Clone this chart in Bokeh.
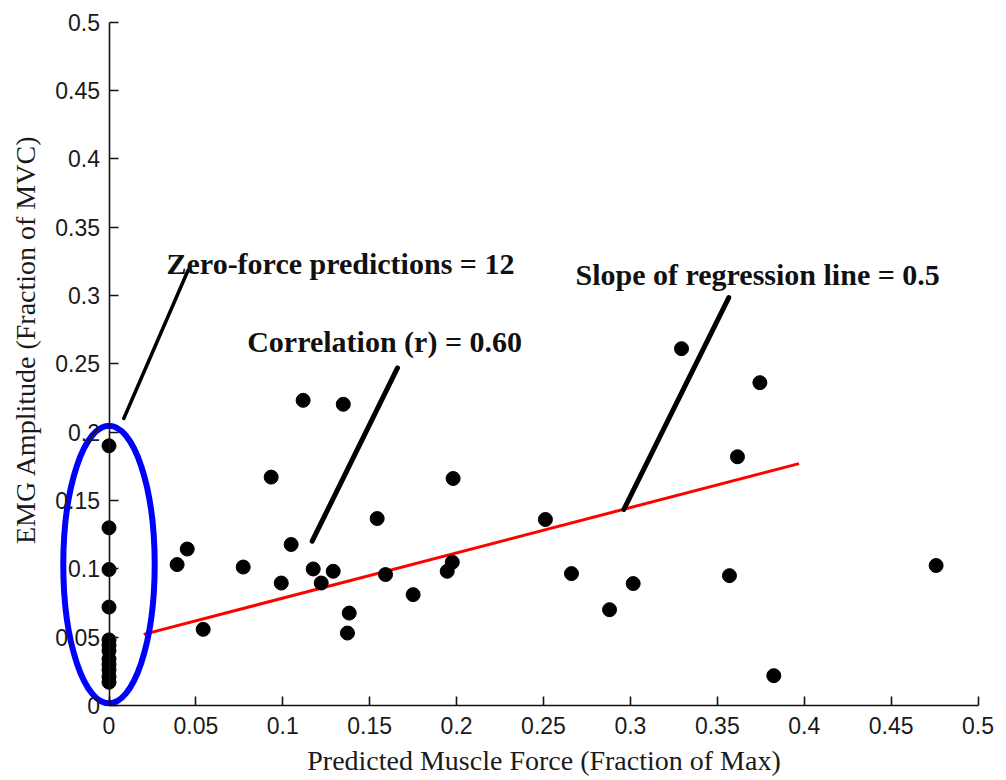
import math
from bokeh.plotting import figure
from bokeh.models import LinearAxis, FixedTicker, Range1d, Label, ColumnDataSource, Grid
from bokeh.core.properties import value
from bokeh.embed import file_html
from bokeh.resources import INLINE

# ---- data ----
zero_x = [0.0] * 12
zero_y = [0.190, 0.130, 0.0995, 0.072, 0.048, 0.044, 0.040, 0.034, 0.030, 0.026, 0.021, 0.017]

force_x = [0.1117, 0.1348, 0.0933, 0.1980, 0.1543, 0.0450, 0.1048, 0.0392, 0.0772, 0.1175,
           0.1290, 0.0991, 0.1221, 0.1591, 0.1975, 0.1946, 0.1750, 0.1382, 0.1372, 0.0542,
           0.3294, 0.3745, 0.3616, 0.2511, 0.2661, 0.3016, 0.2880, 0.3570, 0.3825, 0.4759]
emg_y = [0.2233, 0.2204, 0.1671, 0.1661, 0.1368, 0.1145, 0.1178, 0.1031, 0.1013, 0.0999,
         0.0982, 0.0896, 0.0896, 0.0958, 0.1048, 0.0982, 0.0811, 0.0676, 0.0530, 0.0557,
         0.2611, 0.2362, 0.1820, 0.1361, 0.0965, 0.0892, 0.0701, 0.0950, 0.0218, 0.1024]

reg_x = [0.020, 0.397]
reg_y = [0.052, 0.177]

ticks = [0, 0.05, 0.1, 0.15, 0.2, 0.25, 0.3, 0.35, 0.4, 0.45, 0.5]
tick_labels = ["0", "0.05", "0.1", "0.15", "0.2", "0.25", "0.3", "0.35", "0.4", "0.45", "0.5"]

# annotation callouts (data coords)
note_texts = ["Zero-force predictions = 12", "Correlation (r) = 0.60", "Slope of regression line = 0.5"]
note_x = [0.0331, 0.0795, 0.2684]
note_y = [0.3232, 0.2667, 0.3156]
callout_xs = [[0.0085, 0.0455], [0.1169, 0.166], [0.2962, 0.3566]]
callout_ys = [[0.210, 0.3185], [0.1202, 0.247], [0.1434, 0.2985]]
callout_w = [3.5, 5, 5]

ellipse_x = [0.0]
ellipse_y = [0.1031]
ellipse_w = [0.0526]
ellipse_h = [0.2032]

# ---- figure ----
W, H = 1006, 780
xs, xe = -108.5 / 1738, 0.5 + 28.5 / 1738
ys, ye = -(H - 705) / 1366, 0.5 + 21.7 / 1366

p = figure(width=W, height=H, x_range=Range1d(xs, xe), y_range=Range1d(ys, ye),
           x_axis_location=None, y_axis_location=None,
           toolbar_location=None, output_backend="svg", min_border=0)
p.outline_line_color = None
p.background_fill_color = "white"
p.border_fill_color = "white"
for r in list(p.center):
    if isinstance(r, Grid):
        r.visible = False

overrides = {t: l for t, l in zip(ticks, tick_labels)}

xa = LinearAxis(fixed_location=0, bounds=(0, 0.5), ticker=FixedTicker(ticks=ticks))
xa.major_label_overrides = overrides
ya = LinearAxis(fixed_location=0, bounds=(0, 0.5), ticker=FixedTicker(ticks=ticks))
ya.major_label_overrides = overrides
for ax in (xa, ya):
    ax.major_tick_in = 9
    ax.major_tick_out = 0
    ax.minor_tick_in = 0
    ax.minor_tick_out = 0
    ax.axis_line_width = 1.6
    ax.axis_line_color = "#111111"
    ax.major_tick_line_width = 1.6
    ax.major_tick_line_color = "#111111"
    ax.major_label_text_font = "Liberation Sans"
    ax.major_label_text_font_size = "23px"
    ax.major_label_text_color = "#1a1a1a"
    ax.major_label_standoff = 9
xa.major_label_standoff = 12
xa.axis_label = "Predicted Muscle Force (Fraction of Max)"
xa.axis_label_text_font = "Liberation Serif"
xa.axis_label_text_font_size = "28px"
xa.axis_label_text_font_style = "normal"
xa.axis_label_text_color = "#1a1a1a"
xa.axis_label_standoff = 7
p.add_layout(xa, "below")
p.add_layout(ya, "left")

ylab = Label(x=25, y=H - 339, x_units="screen", y_units="screen", angle=math.pi / 2,
             text="EMG Amplitude (Fraction of MVC)", text_font="Liberation Serif",
             text_font_size="28px", text_align="center", text_baseline="middle",
             text_color="#1a1a1a")
p.add_layout(ylab)

# regression line
p.line(reg_x, reg_y, line_color="#ff0000", line_width=3)

# callout lines
for cx, cy, w in zip(callout_xs, callout_ys, callout_w):
    p.line(cx, cy, line_color="black", line_width=w, line_cap="round")

# points
p.scatter(force_x, emg_y, size=14, fill_color="black", line_color="black")
p.scatter(zero_x, zero_y, size=14, fill_color="black", line_color="black")

# ellipse
p.ellipse(x=ellipse_x, y=ellipse_y, width=ellipse_w, height=ellipse_h,
          fill_color=None, line_color="#0000ff", line_width=6)

# notes
src = ColumnDataSource(dict(x=note_x, y=note_y, text=note_texts))
p.text(x="x", y="y", text="text", source=src, text_font=value("Liberation Serif"),
       text_font_style="bold", text_font_size="30px", text_color="#111111",
       text_align="left", text_baseline="alphabetic")

open("out.html", "w").write(file_html(p, INLINE))
